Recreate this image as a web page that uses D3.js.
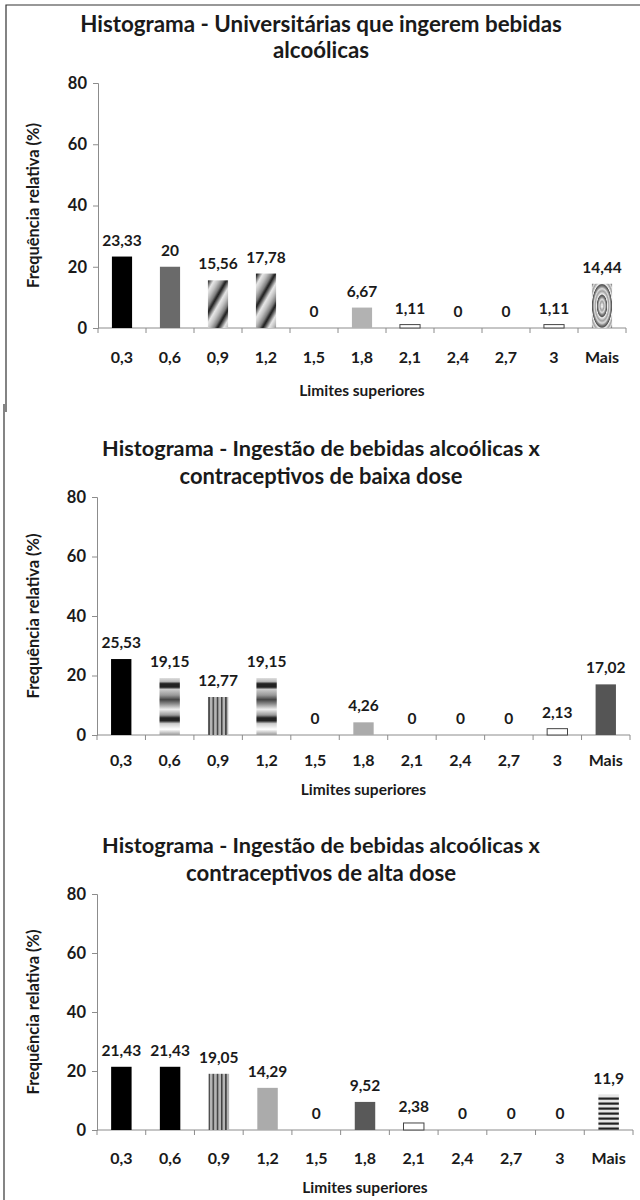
<!DOCTYPE html>
<html>
<head>
<meta charset="utf-8">
<script src="https://cdn.jsdelivr.net/npm/d3@7"></script>
<style>
  html, body { margin: 0; padding: 0; background: #fff; }
  svg { display: block; }
  text { font-family: Lato, "Open Sans", sans-serif; font-weight: bold; fill: #1a1a1a; }
</style>
</head>
<body>
<svg id="chart" width="640" height="1200"></svg>
<script>
// Upper class limits (x categories)
const categories = ["0,3", "0,6", "0,9", "1,2", "1,5", "1,8", "2,1", "2,4", "2,7", "3", "Mais"];

// Relative frequency (%) per histogram
const universitarias = [23.33, 20, 15.56, 17.78, 0, 6.67, 1.11, 0, 0, 1.11, 14.44];
const baixaDose      = [25.53, 19.15, 12.77, 19.15, 0, 4.26, 0, 0, 0, 2.13, 17.02];
const altaDose       = [21.43, 21.43, 19.05, 14.29, 0, 9.52, 2.38, 0, 0, 0, 11.9];

// Y axis ticks
const yTicks = [0, 20, 40, 60, 80];

// Titles
const titles = [
  ["Histograma - Universitárias que ingerem bebidas", "alcoólicas"],
  ["Histograma - Ingestão de bebidas alcoólicas x", "contraceptivos de baixa dose"],
  ["Histograma - Ingestão de bebidas alcoólicas x", "contraceptivos de alta dose"]
];
const xTitle = "Limites superiores";
const yTitle = "Frequência relativa (%)";

// Bar fills for each histogram (one per category)
const fills1 = ["#000", "#6a6a6a", "url(#diag)", "url(#diag2)", "#fff", "#b2b2b2", "#fff", "#fff", "#fff", "#fff", "url(#rings)"];
const fills2 = ["#000", "url(#hbands)", "url(#vstripes)", "url(#hbands)", "#fff", "#ababab", "#fff", "#fff", "#fff", "#fff", "#555"];
const fills3 = ["#000", "#000", "url(#vstripes)", "#ababab", "#fff", "#595959", "#fff", "#fff", "#fff", "#fff", "url(#hstripes)"];

const svg = d3.select("#chart");
const defs = svg.append("defs");

// --- pattern definitions ---
function diagPattern(id, offset) {
  const g = defs.append("linearGradient").attr("id", id + "g")
    .attr("x1", 0).attr("y1", 0).attr("x2", 1).attr("y2", 0);
  [[0, "#111"], [0.12, "#555"], [0.35, "#e8e8e8"], [0.6, "#bdbdbd"], [0.85, "#7a7a7a"], [1, "#222"]]
    .forEach(([o, c]) => g.append("stop").attr("offset", o).attr("stop-color", c));
  const p = defs.append("pattern").attr("id", id)
    .attr("patternUnits", "userSpaceOnUse").attr("width", 16).attr("height", 16)
    .attr("patternTransform", `rotate(30) translate(${offset},0)`);
  p.append("rect").attr("width", 16).attr("height", 16).attr("fill", `url(#${id}g)`);
}
diagPattern("diag", 0);
diagPattern("diag2", 7);

const rg = defs.append("radialGradient").attr("id", "rings")
  .attr("cx", 0.5).attr("cy", 0.5).attr("r", 0.24).attr("spreadMethod", "repeat");
[[0, "#555"], [0.12, "#f0f0f0"], [0.4, "#a0a0a0"], [0.62, "#dcdcdc"], [0.85, "#7c7c7c"], [1, "#555"]]
  .forEach(([o, c]) => rg.append("stop").attr("offset", o).attr("stop-color", c));

const hb = defs.append("linearGradient").attr("id", "hbands")
  .attr("x1", 0).attr("y1", 0).attr("x2", 0).attr("y2", 1);
[[0, "#ddd"], [0.06, "#bbb"], [0.1, "#222"], [0.16, "#222"], [0.2, "#ccc"], [0.3, "#999"],
 [0.38, "#444"], [0.45, "#888"], [0.55, "#eee"], [0.65, "#999"], [0.7, "#222"], [0.75, "#222"],
 [0.8, "#ccc"], [0.9, "#fff"], [1, "#999"]]
  .forEach(([o, c]) => hb.append("stop").attr("offset", o).attr("stop-color", c));

const vs = defs.append("pattern").attr("id", "vstripes")
  .attr("patternUnits", "userSpaceOnUse").attr("width", 4.2).attr("height", 10);
vs.append("rect").attr("width", 4.2).attr("height", 10).attr("fill", "#b5b5b5");
vs.append("rect").attr("x", 2.6).attr("width", 1.4).attr("height", 10).attr("fill", "#333");

const hs = defs.append("pattern").attr("id", "hstripes")
  .attr("patternUnits", "userSpaceOnUse").attr("width", 10).attr("height", 5);
hs.append("rect").attr("width", 10).attr("height", 5).attr("fill", "#e6e6e6");
hs.append("rect").attr("y", 2.5).attr("width", 10).attr("height", 2.2).attr("fill", "#222");

// --- frame lines ---
svg.append("path").attr("d", "M6,412 V5 H640").attr("fill", "none").attr("stroke", "#333").attr("stroke-width", 1.2);
svg.append("path").attr("d", "M4,404 V1200").attr("fill", "none").attr("stroke", "#333").attr("stroke-width", 1.2);

// Scale a text's font size so it spans the given width
function fitWidth(sel, w) {
  const node = sel.node();
  const fs = parseFloat(sel.attr("font-size"));
  const len = node.getComputedTextLength();
  sel.attr("font-size", (fs * w / len).toFixed(2));
}

const layouts = [
  { top: 83,  bottom: 328,  x0: 98, x1: 626, titleY: [32, 58],   titleW: [482, 96],  tickY: 363,  xTitleY: 396 },
  { top: 497, bottom: 735,  x0: 97, x1: 630, titleY: [456, 484], titleW: [438, 283], tickY: 766,  xTitleY: 795 },
  { top: 894, bottom: 1130, x0: 97, x1: 633, titleY: [853, 881], titleW: [438, 270], tickY: 1164, xTitleY: 1193 }
];

const datasets = [universitarias, baixaDose, altaDose];
const fillsets = [fills1, fills2, fills3];
const fmt = v => String(v).replace(".", ",");

datasets.forEach((values, i) => {
  const L = layouts[i];
  const g = svg.append("g");

  const x = d3.scaleBand().domain(categories).range([L.x0, L.x1]).paddingInner(0.58).paddingOuter(0.29);
  const xb = d3.scaleBand().domain(categories).range([L.x0, L.x1]);
  const y = d3.scaleLinear().domain([0, 80]).range([L.bottom, L.top]);

  // title
  titles[i].forEach((t, k) => {
    const tt = g.append("text").attr("x", 321).attr("y", L.titleY[k])
      .attr("text-anchor", "middle").attr("font-size", 18).text(t);
    fitWidth(tt, L.titleW[k]);
  });

  // y axis
  const ya = g.append("g").attr("transform", `translate(${L.x0},0)`)
    .call(d3.axisLeft(y).tickValues(yTicks).tickSize(5).tickPadding(6));
  ya.selectAll("path, line").attr("stroke", "#8c8c8c");
  ya.selectAll("text").attr("font-size", 16.5).attr("font-family", "Lato, sans-serif").attr("font-weight", "bold").attr("fill", "#1a1a1a");

  // x axis (ticks at category boundaries)
  const xa = g.append("g").attr("transform", `translate(0,${L.bottom})`);
  xa.append("line").attr("x1", L.x0).attr("x2", L.x1).attr("stroke", "#8c8c8c");
  xa.selectAll("line.tk").data(categories.concat([null])).join("line").attr("class", "tk")
    .attr("x1", (d, j) => L.x0 + j * xb.step()).attr("x2", (d, j) => L.x0 + j * xb.step())
    .attr("y1", 0).attr("y2", 5).attr("stroke", "#8c8c8c");
  xa.selectAll("text").data(categories).join("text")
    .attr("x", d => xb(d) + xb.bandwidth() / 2).attr("y", L.tickY - L.bottom)
    .attr("text-anchor", "middle").attr("font-size", 16).text(d => d);

  // bars
  g.selectAll("rect.bar").data(values).join("rect").attr("class", "bar")
    .attr("x", (d, j) => x(categories[j]))
    .attr("y", d => y(d))
    .attr("width", x.bandwidth())
    .attr("height", d => y(0) - y(d))
    .attr("fill", (d, j) => fillsets[i][j])
    .attr("stroke", (d, j) => fillsets[i][j] === "#fff" ? "#444" : "none")
    .attr("stroke-width", 1);

  // value labels
  g.selectAll("text.val").data(values).join("text").attr("class", "val")
    .attr("x", (d, j) => xb(categories[j]) + xb.bandwidth() / 2)
    .attr("y", d => y(d) - 11)
    .attr("text-anchor", "middle").attr("font-size", 15.5).text(d => fmt(d));

  // axis titles
  g.append("text").attr("x", (L.x0 + L.x1) / 2).attr("y", L.xTitleY)
    .attr("text-anchor", "middle").attr("font-size", 15.5).text(xTitle);
  const yt = g.append("text")
    .attr("transform", `translate(39,${(L.top + L.bottom) / 2}) rotate(-90)`)
    .attr("text-anchor", "middle").attr("font-size", 13).text(yTitle);
  fitWidth(yt, 165);
});
</script>
</body>
</html>
